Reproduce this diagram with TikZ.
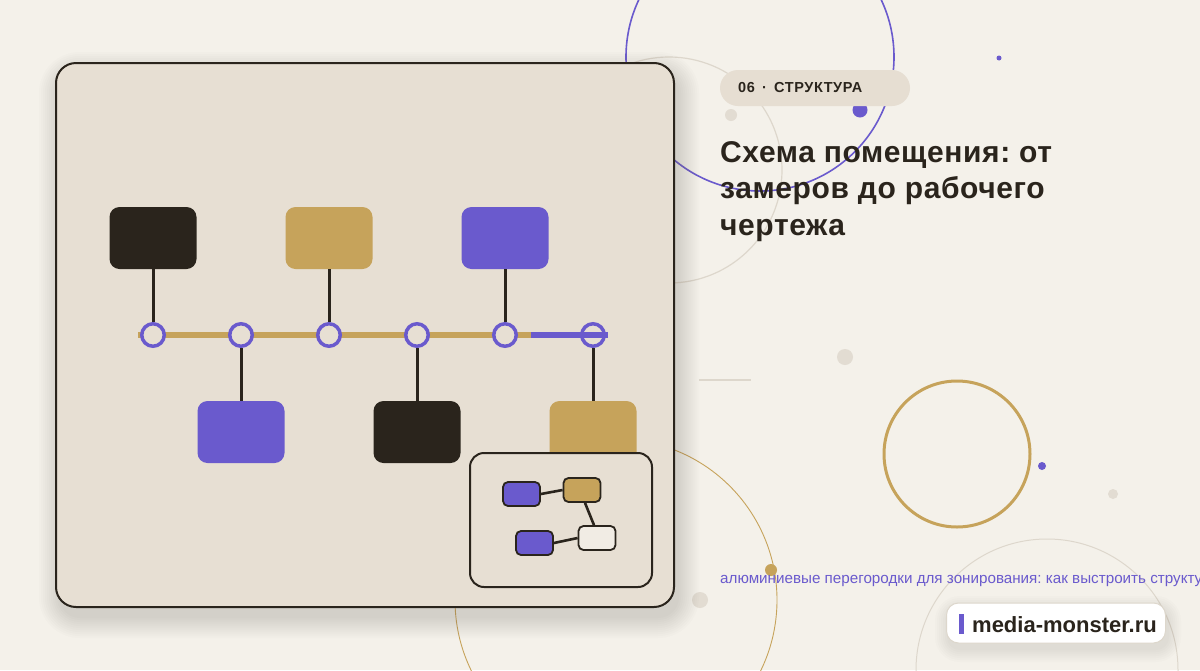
\documentclass[tikz,border=0pt]{standalone}
\usepackage{fontspec}
\setmainfont{Liberation Sans}
\newfontfamily\spacedfont[LetterSpace=2]{Liberation Sans}
\newfontfamily\tagfont[LetterSpace=4]{Liberation Sans}
\definecolor{bgc}{HTML}{F4F1EA}
\definecolor{cardc}{HTML}{E7DFD3}
\definecolor{darkc}{HTML}{2A241C}
\definecolor{goldc}{HTML}{C6A35B}
\definecolor{purc}{HTML}{6A5ACD}
\definecolor{grayc}{HTML}{E2DCD2}
\definecolor{linec}{HTML}{DDD7CC}
\definecolor{pillc}{HTML}{E6DED2}
\definecolor{whitec}{HTML}{F1ECE4}
\definecolor{shadowc}{HTML}{6E6456}
\tikzset{
  bigbox/.style={rounded corners=10pt, minimum width=87pt, minimum height=62pt, inner sep=0pt},
  tlpoint/.style={circle, minimum size=22.5pt, inner sep=0pt, draw=purc, line width=3.5pt, fill=cardc},
  stem/.style={draw=darkc, line width=3pt},
  minibox/.style={rounded corners=5pt, draw=darkc, line width=1.8pt, minimum width=37pt, minimum height=24pt, inner sep=0pt},
  minilink/.style={draw=darkc, line width=2.6pt},
  softshadow/.style={fill=shadowc, fill opacity=0.02},
  titleline/.style={anchor=base west, inner sep=0pt, text=darkc, font=\spacedfont\bfseries\fontsize{30}{36}\selectfont}
}
\frenchspacing
\begin{document}
\begin{tikzpicture}[x=1pt,y=-1pt]
\useasboundingbox (0,0) rectangle (1200,670);
\fill[bgc] (0,0) rectangle (1200,670);
\begin{scope}
\clip (0,0) rectangle (1200,670);
% decorative circles
\draw[purc, line width=1.6pt] (760,57) circle[radius=134];
\draw[linec, line width=1.2pt] (669,170) circle[radius=113];
\draw[goldc, line width=0.9pt] (616,600) circle[radius=161];
\draw[linec, line width=1pt] (1047,670) circle[radius=131];
\draw[goldc, line width=3pt] (957,454) circle[radius=73];
\fill[purc] (860,110) circle[radius=7.5];
\fill[purc] (999,58) circle[radius=2.5];
\fill[grayc] (731,115) circle[radius=6];
\fill[grayc] (845,357) circle[radius=8];
\fill[purc] (1042,466) circle[radius=4];
\fill[grayc] (1113,494) circle[radius=5];
\fill[goldc] (771,570) circle[radius=6];
\fill[grayc] (700,600) circle[radius=8];
\draw[linec, line width=1.5pt] (699,380) -- (751,380);
% card shadow
\foreach \s in {1,3,...,21} {
  \fill[softshadow, rounded corners=20pt+\s pt] (56+4-\s,63+10-\s) rectangle (674+4+\s,607+10+\s);
}
% footer shadow
\foreach \s in {1,3,...,13} {
  \fill[softshadow, rounded corners=12pt+\s pt] (946-\s+2,603+6-\s) rectangle (1166+\s+2,643+6+\s);
}
\end{scope}
% card
\node[draw=darkc, line width=2pt, fill=cardc, rounded corners=20pt, minimum width=618pt, minimum height=544pt, inner sep=0pt] (card) at (365,335) {};
% timeline
\coordinate (tlstart) at (138,335);
\coordinate (tlmid) at (531,335);
\coordinate (tlend) at (608,335);
\draw[goldc, line width=6pt] (tlstart) -- (tlmid);
\node[bigbox, fill=darkc] (b1) at (153,238) {};
\node[bigbox, fill=goldc] (b3) at (329,238) {};
\node[bigbox, fill=purc] (b5) at (505,238) {};
\node[bigbox, fill=purc] (b2) at (241,432) {};
\node[bigbox, fill=darkc] (b4) at (417,432) {};
\node[bigbox, fill=goldc] (b6) at (593,432) {};
\node[tlpoint] (p1) at (153,335) {};
\node[tlpoint] (p2) at (241,335) {};
\node[tlpoint] (p3) at (329,335) {};
\node[tlpoint] (p4) at (417,335) {};
\node[tlpoint] (p5) at (505,335) {};
\node[tlpoint] (p6) at (593,335) {};
\draw[stem] (b1.south) -- (p1.north);
\draw[stem] (b3.south) -- (p3.north);
\draw[stem] (b5.south) -- (p5.north);
\draw[stem] (p2.south) -- (b2.north);
\draw[stem] (p4.south) -- (b4.north);
\draw[stem] (p6.south) -- (b6.north);
\draw[purc, line width=6pt] (tlmid) -- (tlend);
% inset
\node[draw=darkc, line width=2pt, fill=cardc, rounded corners=14pt, minimum width=182pt, minimum height=134pt, inner sep=0pt] (inset) at (561,520) {};
\node[minibox, fill=purc] (ma) at (521.5,494) {};
\node[minibox, fill=goldc] (mb) at (582,490) {};
\node[minibox, fill=purc] (mc) at (534.5,543) {};
\node[minibox, fill=whitec] (md) at (597,538) {};
\draw[minilink] (ma.east) -- (mb.west);
\draw[minilink] ([xshift=3pt]mb.south) -- ([xshift=-3pt]md.north);
\draw[minilink] (mc.east) -- (md.west);
% tag pill
\node[fill=pillc, rounded corners=18pt, minimum width=190pt, minimum height=36pt, inner sep=0pt] (pill) at (815,88) {};
\node[anchor=base west, inner sep=0pt, text=darkc, font=\tagfont\bfseries\fontsize{14.5}{16}\selectfont] (tag) at (738,92.3) {06\enspace·\enspace СТРУКТУРА};
% title
\node[titleline] (title1) at (720,162) {Схема помещения: от};
\node[titleline] (title2) at (720,198.5) {замеров до рабочего};
\node[titleline] (title3) at (720,235) {чертежа};
% subtitle
\begin{scope}
\clip (0,0) rectangle (1200,670);
\node[anchor=base west, inner sep=0pt, text=purc, font=\fontsize{15.2}{17}\selectfont] (sub) at (720,583)
  {алюминиевые перегородки для зонирования: как выстроить структуру};
\end{scope}
% footer pill
\node[fill=white, draw=linec, line width=1pt, rounded corners=12pt, minimum width=219pt, minimum height=40pt, inner sep=0pt] (foot) at (1056,623) {};
\fill[purc] (958.5,614) rectangle (963.5,634);
\node[anchor=base west, inner sep=0pt, text=darkc, font=\bfseries\fontsize{22}{24}\selectfont] (site) at (972,632) {media-monster.ru};
\end{tikzpicture}
\end{document}
